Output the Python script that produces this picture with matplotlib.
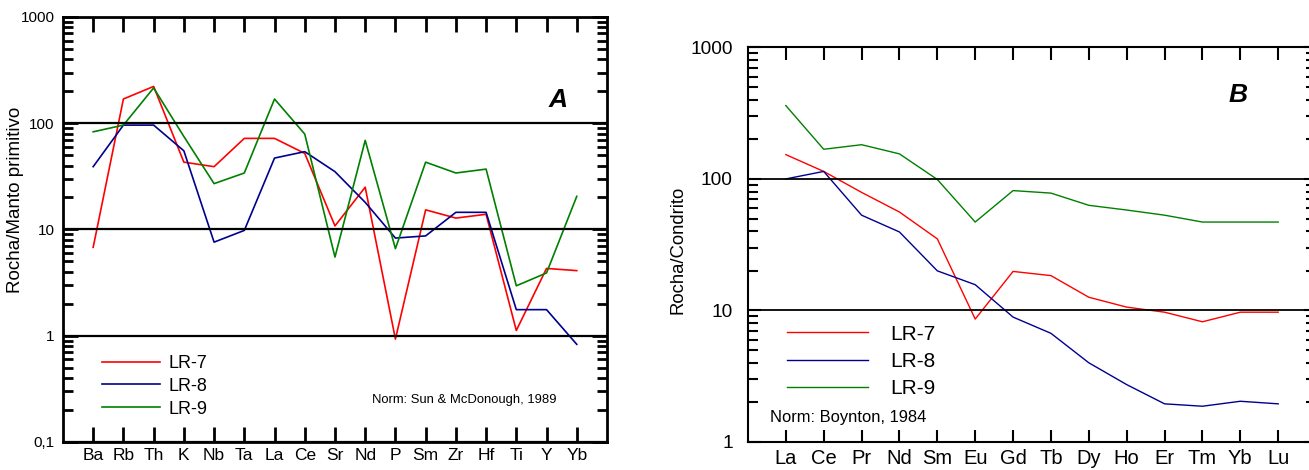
import matplotlib
matplotlib.use("Agg")
import matplotlib.pyplot as plt
from matplotlib.ticker import LogLocator, FixedLocator, FixedFormatter, NullFormatter

plt.rcParams['font.family'] = ['Liberation Sans', 'DejaVu Sans']

# panel A - spider diagram, normalised to primitive mantle
elem_a = ['Ba', 'Rb', 'Th', 'K', 'Nb', 'Ta', 'La', 'Ce', 'Sr', 'Nd', 'P', 'Sm', 'Zr', 'Hf', 'Ti', 'Y', 'Yb']
lr7_a = [6.8, 169, 222, 43, 39, 72, 72, 52, 10.8, 25, 0.93, 15.3, 12.8, 13.9, 1.12, 4.3, 4.1]
lr8_a = [39, 96, 96, 55, 7.6, 9.8, 47, 54, 35, 18, 8.3, 8.7, 14.5, 14.5, 1.76, 1.76, 0.83]
lr9_a = [83, 96, 215, 75, 27, 34, 169, 79, 5.5, 69, 6.6, 43, 34, 37, 2.95, 3.9, 20.5]
yt_a = [0.1, 1, 10, 100, 1000]
ylab_a = ['0,1', '1', '10', '100', '1000']

# panel B - REE, normalised to chondrite
elem_b = ['La', 'Ce', 'Pr', 'Nd', 'Sm', 'Eu', 'Gd', 'Tb', 'Dy', 'Ho', 'Er', 'Tm', 'Yb', 'Lu']
lr7_b = [153, 114, 79, 56, 35, 8.6, 19.8, 18.4, 12.6, 10.6, 9.7, 8.2, 9.7, 9.7]
lr8_b = [100, 114, 53, 39.5, 20, 15.7, 8.9, 6.7, 4.0, 2.73, 1.95, 1.87, 2.04, 1.95]
lr9_b = [361, 168, 182, 155, 99, 47, 81.5, 78, 63, 58, 53, 47, 47, 47]
yt_b = [1, 10, 100, 1000]
ylab_b = ['1', '10', '100', '1000']

names = ['LR-7', 'LR-8', 'LR-9']
cols = ['#ff0000', '#000090', '#008000']

fig = plt.figure(figsize=(13.09, 4.70), dpi=100)
axA = fig.add_axes([0.0481, 0.0596, 0.4156, 0.9043])
axB = fig.add_axes([0.5714, 0.0596, 0.4340, 0.8396])


def setup(ax, elems, yt, ylab, lw_sp, tl, fs_x, fs_y, grid_lw, ypad, xpad):
    ax.set_yscale('log')
    x = list(range(len(elems)))
    ax.set_xticks(x)
    ax.set_xticklabels(elems, fontsize=fs_x)
    ax.yaxis.set_major_locator(FixedLocator(yt))
    ax.yaxis.set_major_formatter(FixedFormatter(ylab))
    ax.yaxis.set_minor_locator(LogLocator(base=10, subs=range(2, 10)))
    ax.yaxis.set_minor_formatter(NullFormatter())
    ax.set_ylim(yt[0], yt[-1])
    ax.tick_params(axis='x', direction='in', top=True, bottom=True, length=tl, width=lw_sp, pad=xpad)
    ax.tick_params(axis='y', which='major', direction='in', left=True, right=True, length=tl, width=lw_sp,
                   labelsize=fs_y, pad=ypad)
    ax.tick_params(axis='y', which='minor', direction='in', left=True, right=True, length=7, width=lw_sp)
    for s in ax.spines.values():
        s.set_linewidth(lw_sp)
    ax.grid(axis='y', which='major', color='black', linewidth=grid_lw)
    ax.set_axisbelow(False)


setup(axA, elem_a, yt_a, ylab_a, 2.0, 11, 12.5, 11, 1.6, 6, 4)
axA.set_xlim(-1, len(elem_a))
xa = list(range(len(elem_a)))
for vals, nm, c in zip([lr7_a, lr8_a, lr9_a], names, cols):
    axA.plot(xa, vals, color=c, lw=1.2, label=nm)
axA.set_ylabel('Rocha/Manto primitivo', fontsize=13.5)
axA.yaxis.set_label_coords(-0.072, 0.57)
axA.text(0.91, 0.805, 'A', transform=axA.transAxes, fontsize=19, fontweight='bold', fontstyle='italic',
         ha='center', va='center')
axA.text(0.568, 0.099, 'Norm: Sun & McDonough, 1989', transform=axA.transAxes, fontsize=9.4, ha='left', va='center')
axA.legend(loc='upper left', bbox_to_anchor=(0.0717, 0.205), frameon=False, fontsize=13, handlelength=3.2,
           handletextpad=0.5, labelspacing=0.33, borderpad=0, borderaxespad=0)

setup(axB, elem_b, yt_b, ylab_b, 1.5, 9, 14.5, 13.8, 1.3, 11, 5)
axB.set_xlim(-1, 14)
xb = list(range(len(elem_b)))
for vals, nm, c in zip([lr7_b, lr8_b, lr9_b], names, cols):
    axB.plot(xb, vals, color=c, lw=1.0, label=nm)
axB.set_ylabel('Rocha/Condrito', fontsize=13.3)
axB.yaxis.set_label_coords(-0.108, 0.487)
axB.text(0.862, 0.88, 'B', transform=axB.transAxes, fontsize=19, fontweight='bold', fontstyle='italic',
         ha='center', va='center')
axB.text(0.039, 0.062, 'Norm: Boynton, 1984', transform=axB.transAxes, fontsize=11.9, ha='left', va='center')
axB.legend(loc='upper left', bbox_to_anchor=(0.069, 0.297), frameon=False, fontsize=15, handlelength=3.9,
           handletextpad=1.05, labelspacing=0.4, borderpad=0, borderaxespad=0)

fig.savefig('out.png', dpi=100)
